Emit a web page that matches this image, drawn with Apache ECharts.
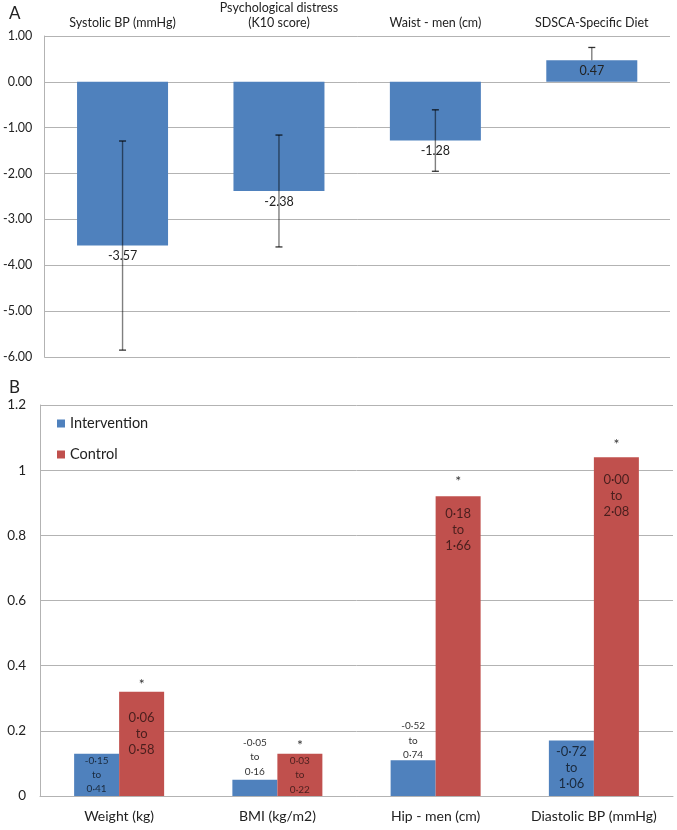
<!DOCTYPE html>
<html>
<head>
<meta charset="utf-8">
<script src="https://cdn.jsdelivr.net/npm/echarts@6/dist/echarts.min.js"></script>
<style>
html,body{margin:0;padding:0;background:#fff;}
#chart{width:677px;height:830px;}
</style>
</head>
<body>
<div id="chart"></div>
<script>
// ---- Panel A data ----
var catsA = ['Systolic BP (mmHg)', 'Psychological distress\n(K10 score)', 'Waist - men (cm)', 'SDSCA-Specific Diet'];
var valsA = [-3.57, -2.38, -1.28, 0.47];
var errLowA = [-5.85, -3.60, -1.95, 0.47];
var errHighA = [-1.29, -1.16, -0.61, 0.75];

// ---- Panel B data ----
var catsB = ['Weight (kg)', 'BMI (kg/m2)', 'Hip - men (cm)', 'Diastolic BP (mmHg)'];
var intervention = [0.13, 0.05, 0.11, 0.17];
var control = [0.32, 0.13, 0.92, 1.04];
var intervCI = ['-0·15\nto\n0·41', '-0·05\nto\n0·16', '-0·52\nto\n0·74', '-0·72\nto\n1·06'];
var controlCI = ['0·06\nto\n0·58', '0·03\nto\n0·22', '0·18\nto\n1·66', '0·00\nto\n2·08'];
var significance = ['*', '*', '*', '*'];

var FONT = 'Lato, "Open Sans", sans-serif';
var BLUE = '#4f81bd', RED = '#c0504d', GRID = '#b3b3b3';

// label styles per bar (kept separate from data)
var intervLabelStyle = [
  {position: 'inside', fontSize: 10, lineHeight: 14, color: 'rgba(0,0,0,0.68)'},
  {position: 'top', distance: 1, fontSize: 10, lineHeight: 14.5, color: '#333'},
  {position: 'top', distance: -2, fontSize: 10, lineHeight: 14.5, color: '#333'},
  {position: 'inside', fontSize: 13, lineHeight: 16, color: 'rgba(0,0,0,0.68)'}
];
var controlLabelStyle = [
  {position: 'insideTop', distance: 18, fontSize: 13, lineHeight: 16},
  {position: 'inside', fontSize: 10, lineHeight: 14.5},
  {position: 'insideTop', distance: 10, fontSize: 13, lineHeight: 16},
  {position: 'insideTop', distance: 15, fontSize: 13, lineHeight: 16}
];
var starDist = [0, 1, 8, 6];

var chart = echarts.init(document.getElementById('chart'));

var option = {
  animation: false,
  backgroundColor: '#fff',
  textStyle: {fontFamily: FONT},
  title: [
    {text: 'A', left: 4, top: 0, textStyle: {fontFamily: FONT, fontSize: 17, fontWeight: 'normal', color: '#222'}},
    {text: 'B', left: 4, top: 374, textStyle: {fontFamily: FONT, fontSize: 17, fontWeight: 'normal', color: '#222'}}
  ],
  legend: {
    data: ['Intervention', 'Control'],
    orient: 'vertical',
    left: 52, top: 411,
    itemWidth: 8, itemHeight: 8, itemGap: 16,
    icon: 'rect',
    textStyle: {fontFamily: FONT, fontSize: 14.5, color: '#222'}
  },
  grid: [
    {left: 41, right: 7, top: 35, height: 322},
    {left: 40, right: 4, top: 405, height: 391}
  ],
  xAxis: [
    {
      gridIndex: 0, type: 'category', data: catsA, position: 'top',
      axisLine: {show: false}, axisTick: {show: false},
      axisLabel: {margin: 6, fontSize: 12.5, lineHeight: 15, color: '#222', fontFamily: FONT, interval: 0}
    },
    {
      gridIndex: 1, type: 'category', data: catsB,
      axisLine: {show: true, lineStyle: {color: GRID}}, axisTick: {show: false},
      axisLabel: {margin: 13, fontSize: 14, color: '#222', fontFamily: FONT, interval: 0}
    }
  ],
  yAxis: [
    {
      gridIndex: 0, type: 'value', min: -6, max: 1, interval: 1,
      axisLine: {show: true, lineStyle: {color: GRID}}, axisTick: {show: false},
      splitLine: {lineStyle: {color: GRID}},
      axisLabel: {margin: 12, fontSize: 12.5, color: '#222', fontFamily: FONT,
        formatter: function (v) { return v.toFixed(2); }}
    },
    {
      gridIndex: 1, type: 'value', min: 0, max: 1.2, interval: 0.2,
      axisLine: {show: true, lineStyle: {color: GRID}}, axisTick: {show: false},
      splitLine: {lineStyle: {color: GRID}},
      axisLabel: {margin: 14, fontSize: 13.5, color: '#222', fontFamily: FONT}
    }
  ],
  series: [
    {
      type: 'bar', xAxisIndex: 0, yAxisIndex: 0, barWidth: 91,
      itemStyle: {color: BLUE},
      data: valsA.map(function (v) {
        return {value: v, label: {position: v < 0 ? 'bottom' : 'inside', distance: 4}};
      }),
      label: {show: true, fontSize: 12.5, color: '#222', fontFamily: FONT,
        formatter: function (p) { return p.value.toFixed(2); }}
    },
    {
      type: 'custom', xAxisIndex: 0, yAxisIndex: 0, z: 10,
      data: valsA.map(function (v, i) { return [i, errLowA[i], errHighA[i]]; }),
      encode: {x: 0, y: [1, 2]},
      renderItem: function (params, api) {
        var lo = api.coord([api.value(0), api.value(1)]);
        var hi = api.coord([api.value(0), api.value(2)]);
        var c = 3.5;
        var st = {stroke: 'rgba(0,0,0,0.5)', lineWidth: 1.4};
        var capSt = {stroke: 'rgba(0,0,0,0.8)', lineWidth: 1.3};
        var children = [
          {type: 'line', shape: {x1: hi[0], y1: hi[1], x2: lo[0], y2: lo[1]}, style: st},
          {type: 'line', shape: {x1: hi[0] - c, y1: hi[1], x2: hi[0] + c, y2: hi[1]}, style: capSt}
        ];
        if (api.value(1) < 0) {
          children.push({type: 'line', shape: {x1: lo[0] - c, y1: lo[1], x2: lo[0] + c, y2: lo[1]}, style: capSt});
        }
        return {type: 'group', children: children};
      }
    },
    {
      name: 'Intervention', type: 'bar', xAxisIndex: 1, yAxisIndex: 1,
      barWidth: 45, barGap: '0%',
      itemStyle: {color: BLUE},
      data: intervention.map(function (v, i) {
        return {value: v, label: intervLabelStyle[i]};
      }),
      label: {show: true, fontFamily: FONT,
        formatter: function (p) { return intervCI[p.dataIndex]; }}
    },
    {
      name: 'Control', type: 'bar', xAxisIndex: 1, yAxisIndex: 1, stack: 'ctrl',
      barWidth: 45, barGap: '0%',
      itemStyle: {color: RED},
      data: control.map(function (v, i) {
        return {value: v, label: controlLabelStyle[i]};
      }),
      label: {show: true, color: 'rgba(0,0,0,0.62)', fontFamily: FONT,
        formatter: function (p) { return controlCI[p.dataIndex]; }}
    },
    {
      name: 'sig', type: 'bar', xAxisIndex: 1, yAxisIndex: 1, stack: 'ctrl',
      barWidth: 45, barGap: '0%',
      itemStyle: {color: 'rgba(0,0,0,0)'},
      data: significance.map(function (s, i) {
        return {value: 0, label: {distance: starDist[i]}};
      }),
      label: {show: true, position: 'top', fontSize: 14, color: '#333', fontFamily: FONT,
        formatter: function (p) { return significance[p.dataIndex]; }}
    }
  ]
};
chart.setOption(option);
</script>
</body>
</html>
